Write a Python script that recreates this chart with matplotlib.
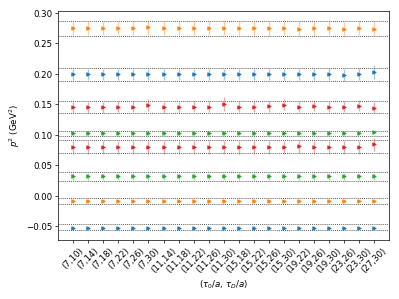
import numpy as np
import matplotlib
matplotlib.use("Agg")
import matplotlib.pyplot as plt

# tick labels (tau_0/a, tau_D/a)
pairs = ["(7,10)", "(7,14)", "(7,18)", "(7,22)", "(7,26)", "(7,30)",
         "(11,14)", "(11,18)", "(11,22)", "(11,26)", "(11,30)",
         "(15,18)", "(15,22)", "(15,26)", "(15,30)",
         "(19,22)", "(19,26)", "(19,30)", "(23,26)", "(23,30)", "(27,30)"]

# p^2 values per momentum (GeV^2)
p2_blue_lo = [-0.0522] * 21
p2_orange_lo = [-0.0088] * 21
p2_green_lo = [0.032] * 21
p2_red_lo = [0.0795] * 15 + [0.081] + [0.0795] * 4 + [0.0842]
p2_green_hi = [0.1022] * 11 + [0.1033] + [0.1022] * 7 + [0.1033, 0.1044]
p2_red_hi = [0.1451, 0.1451, 0.1451, 0.1462, 0.1462, 0.1484, 0.1451, 0.1451, 0.1462, 0.1462,
             0.1506, 0.1462, 0.1462, 0.1467, 0.1495, 0.1462, 0.1473, 0.1462, 0.1462, 0.1473, 0.1440]
p2_blue_hi = [0.199] * 17 + [0.200, 0.1985, 0.200, 0.2027]
p2_orange_hi = [0.2749, 0.2749, 0.2749, 0.2749, 0.2749, 0.2760, 0.2749, 0.2749, 0.2749, 0.2749,
                0.2754, 0.2749, 0.2749, 0.2744, 0.2754, 0.2738, 0.2744, 0.2754, 0.2727, 0.2754, 0.2738]

err_blue_lo = [0.002] * 21
err_orange_lo = [0.003] * 21
err_green_lo = [0.0055] * 21
err_red_lo = [0.0105] * 20 + [0.011]
err_green_hi = [0.0035] * 21
err_red_hi = [0.009] * 5 + [0.010] + [0.009] * 4 + [0.011] + [0.009] * 10
err_blue_hi = [0.0095] * 20 + [0.0115]
err_orange_hi = [0.012] * 18 + [0.013, 0.012, 0.012]

# fitted bands (lower, upper)
band_blue_lo = (-0.0565, -0.0467)
band_orange_lo = (-0.0133, -0.0043)
band_green_lo = (0.0248, 0.0385)
band_red_lo = (0.0697, 0.0910)
band_green_hi = (0.0975, 0.1066)
band_red_hi = (0.1365, 0.1560)
band_blue_hi = (0.1889, 0.2093)
band_orange_hi = (0.2620, 0.2870)

series = [
    (p2_blue_lo, err_blue_lo, band_blue_lo, "C0"),
    (p2_orange_lo, err_orange_lo, band_orange_lo, "C1"),
    (p2_green_lo, err_green_lo, band_green_lo, "C2"),
    (p2_red_lo, err_red_lo, band_red_lo, "C3"),
    (p2_green_hi, err_green_hi, band_green_hi, "C2"),
    (p2_red_hi, err_red_hi, band_red_hi, "C3"),
    (p2_blue_hi, err_blue_hi, band_blue_hi, "C0"),
    (p2_orange_hi, err_orange_hi, band_orange_hi, "C1"),
]

x = np.arange(len(pairs))

fig = plt.figure(figsize=(6.4, 4.8), dpi=62.35)
ax = fig.add_subplot(111)
fig.subplots_adjust(left=0.146, right=0.975, bottom=0.197, top=0.963)

for vals, errs, band, col in series:
    for b in band:
        ax.axhline(b, color="k", ls=(0, (1, 1)), lw=1.2, alpha=0.6)
    ax.errorbar(x, vals, yerr=errs, fmt=">", color=col, ms=4,
                ecolor=col, elinewidth=1.5, capsize=0)
    # lighter error bars
    for line in ax.containers[-1].lines[2]:
        line.set_alpha(0.4)

ax.set_xticks(x)
ax.set_xticklabels(pairs, rotation=45)
ax.set_xlim(-1, 21)
ax.set_ylim(-0.0725, 0.3033)
ax.set_yticks(np.arange(-0.05, 0.31, 0.05))
ax.set_ylabel(r"$p^2$ (GeV$^2$)")
ax.set_xlabel(r"$(\tau_0/a,\,\tau_D/a)$")

fig.savefig("out.png", dpi=62.35)
